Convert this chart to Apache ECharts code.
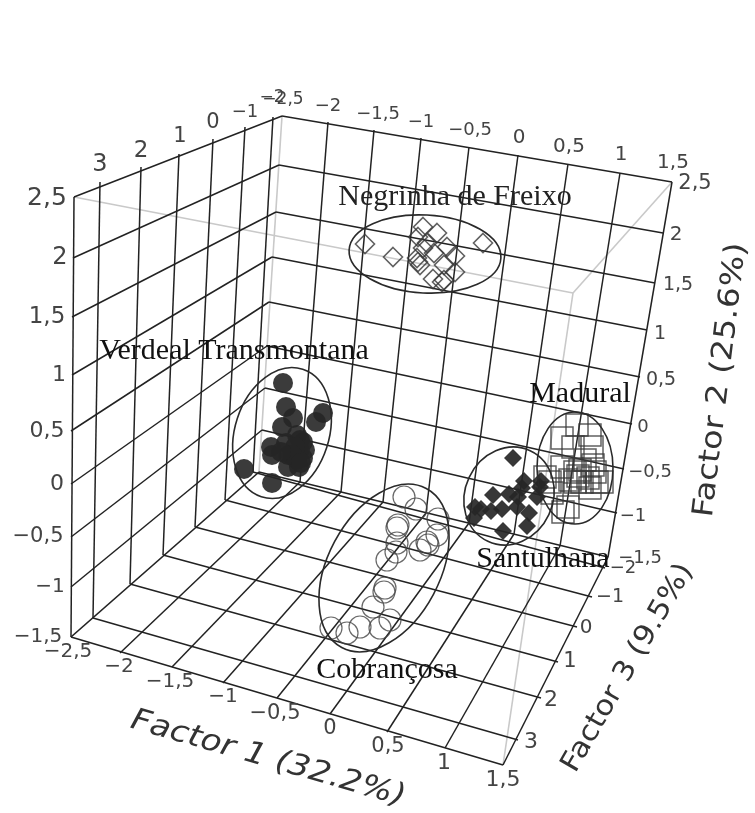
<!DOCTYPE html>
<html>
<head>
<meta charset="utf-8">
<title>Factor scores</title>
<script src="https://cdn.jsdelivr.net/npm/echarts@6/dist/echarts.min.js"></script>
<style>
  html, body { margin: 0; padding: 0; background: #fff; }
  #chart { width: 755px; height: 813px; }
</style>
</head>
<body>
<div id="chart"></div>
<script>
// scores as read off the projected picture plane (no 3d in plain echarts)
const negrinha = [[365,244],[393,257],[423,227],[437,233],[418,237],[427,243],[423,248],[447,247],[434,253],[455,256],[417,258],[420,265],[418,262],[444,265],[455,272],[433,279],[444,280],[442,282],[483,243]];
const verdeal = [[283,383],[286,407],[293,418],[323,413],[316,422],[282,427],[297,435],[303,442],[286,443],[271,447],[272,455],[288,455],[300,450],[297,460],[303,458],[288,467],[299,467],[244,469],[272,483],[300,440],[305,450],[295,447],[292,455],[301,463],[281,452]];
const cobrancosa = [[404,497],[416,509],[398,525],[397,528],[438,519],[437,535],[427,542],[428,545],[420,550],[397,543],[396,552],[387,560],[385,588],[384,592],[373,607],[331,628],[347,633],[360,627],[380,628],[390,620]];
const santulhana = [[513,458],[524,481],[522,488],[541,481],[540,487],[537,497],[493,495],[509,494],[518,497],[517,507],[529,513],[502,509],[491,511],[481,509],[475,507],[474,518],[527,526],[503,531]];
const madural = [[577,425],[562,438],[590,435],[573,447],[592,447],[562,467],[580,470],[595,472],[575,472],[545,477],[550,482],[588,478],[582,482],[597,482],[570,480],[602,482],[575,482],[552,493],[568,507],[563,512],[590,488],[585,460],[578,476],[593,465]];

// cx, cy, rx, ry, tilt in degrees
const ellipses = [
  [425, 254, 76, 39, -3],
  [282, 433, 47, 67, -18],
  [384, 568, 56, 90, -28],
  [509, 496, 44, 50, -25],
  [575, 468, 38, 56, 0]
];

const f1Ticks = ['−2,5', '−2', '−1,5', '−1', '−0,5', '0', '0,5', '1', '1,5'];
const f2Ticks = ['2,5', '2', '1,5', '1', '0,5', '0', '−0,5', '−1', '−1,5'];
const f3Ticks = ['3', '2', '1', '0', '−1', '−2'];

// cube frame: where each tick meets its edge
const f2Front = [[74,197],[73,258],[72,317],[72,375],[71,431],[71,484],[71,537],[71,587],[71,637]];
const f2Corner = [[282,116],[279,165],[276,212],[272,257],[269,302],[267,346],[265,388],[262,430],[259,472]];
const f2Right = [[672,182],[663,233],[655,283],[647,330],[640,377],[632,424],[624,469],[617,513],[608,557]];
const f1Top = [[282,116],[328,122],[374,130],[421,138],[469,147],[518,155],[568,164],[620,173],[672,182]];
const f1Back = [[259,472],[300,482],[341,492],[383,502],[426,513],[469,523],[514,534],[560,546],[608,557]];
const f1Front = [[71,637],[120,653],[172,667],[223,683],[277,698],[330,714],[387,732],[445,748],[503,765]];
const f3Top = [[100,182],[141,167],[179,154],[213,139],[245,127],[273,117]];
const f3Left = [[93,618],[130,584],[163,555],[195,527],[225,500],[253,472]];
const f3Right = [[518,740],[541,698],[558,662],[577,627],[592,597],[605,568]];
const hiddenEdges = [
  [[74,197],[573,293]], [[573,293],[672,182]], [[573,293],[503,765]],
  [[282,116],[259,472]], [[71,637],[259,472]]
];

function zip(a, b) {
  return a.map((p, i) => ({ coords: [p, b[i]] }));
}
const frameLines = [].concat(
  zip(f2Front, f2Corner),
  zip(f2Corner, f2Right),
  zip(f1Top.slice(1, 8), f1Back.slice(1, 8)),
  zip(f1Front.slice(1, 8), f1Back.slice(1, 8)),
  zip(f3Top, f3Left),
  zip(f3Left, f3Right),
  [{ coords: [f2Front[0], f2Front[8]] }, { coords: [f2Right[0], f2Right[8]] },
   { coords: [f1Front[0], f1Front[8]] }, { coords: [f2Right[8], f1Front[8]] }]
);

const TICK = '"DejaVu Sans"';
const SERIF = '"Liberation Serif"';
const texts = [];
function tickRow(labels, at, sizes) {
  labels.forEach((t, i) => texts.push({ value: at[i], t: t, size: sizes[i], font: TICK, fill: '#444' }));
}
tickRow(f2Ticks, [[47,198],[60,258],[47,317],[59,375],[47,431],[57,484],[38,537],[50,587],[38,637]], [25,24,23,22,22,22,21,20,20]);
tickRow(f3Ticks, [[100,165],[141,151],[180,137],[213,123],[245,112],[272,98]], [24,23,21,21,18,17]);
tickRow(f1Ticks, [[283,100],[328,106],[378,114],[421,122],[470,130],[519,138],[569,147],[621,155],[673,163]], [17,18,18,18,18,20,20,20,20]);
tickRow(f2Ticks, [[695,184],[676,235],[678,285],[660,334],[661,380],[643,427],[650,472],[633,516],[640,558]], [21,20,19,19,19,18,18,18,18]);
tickRow(f3Ticks, [[531,742],[551,700],[570,662],[586,628],[610,597],[623,568]], [22,22,21,20,19,18]);
tickRow(f1Ticks, [[68,652],[119,667],[170,682],[223,697],[275,714],[330,729],[388,747],[444,763],[503,780]], [20,20,20,20,21,21,21,22,22]);

const axisTitles = [
  { value: [268,759], t: 'Factor 1 (32.2%)', size: 30, rot: -16, scale: 1.13, font: TICK, fill: '#333', italic: true },
  { value: [721,380], t: 'Factor 2 (25.6%)', size: 29, rot: 83, scale: 1.15, font: TICK, fill: '#333' },
  { value: [628,668], t: 'Factor 3 (9.5%)', size: 28, rot: 60, scale: 1.1, font: TICK, fill: '#333' }
];
const groupNames = [
  { value: [455,197], t: 'Negrinha de Freixo', size: 30, font: SERIF, fill: '#222' },
  { value: [234,351], t: 'Verdeal Transmontana', size: 30, font: SERIF, fill: '#111' },
  { value: [580,394], t: 'Madural', size: 30, font: SERIF, fill: '#111' },
  { value: [543,559], t: 'Santulhana', size: 30, font: SERIF, fill: '#111' },
  { value: [387,670], t: 'Cobrançosa', size: 30, font: SERIF, fill: '#111' }
];
const allTexts = texts.concat(axisTitles, groupNames);

const chart = echarts.init(document.getElementById('chart'));
chart.setOption({
  animation: false,
  backgroundColor: '#fff',
  grid: { left: 0, right: 0, top: 0, bottom: 0 },
  xAxis: { type: 'value', min: 0, max: 755, show: false },
  yAxis: { type: 'value', min: 0, max: 813, inverse: true, show: false },
  series: [
    {
      type: 'lines', coordinateSystem: 'cartesian2d', silent: true, z: 1,
      data: hiddenEdges.map((c) => ({ coords: c })),
      lineStyle: { color: '#c9c9c9', width: 1.6, opacity: 1 }
    },
    {
      type: 'lines', coordinateSystem: 'cartesian2d', silent: true, z: 2,
      data: frameLines,
      lineStyle: { color: '#222', width: 1.5, opacity: 1 }
    },
    {
      name: 'Negrinha de Freixo', type: 'scatter', z: 3, data: negrinha, symbol: 'diamond', symbolSize: 19,
      itemStyle: { color: 'transparent', borderColor: '#3a3a3a', borderWidth: 1.6 }
    },
    {
      name: 'Verdeal Transmontana', type: 'scatter', z: 3, data: verdeal, symbol: 'circle', symbolSize: 20,
      itemStyle: { color: '#262626', opacity: 0.9 }
    },
    {
      name: 'Cobrançosa', type: 'scatter', z: 3, data: cobrancosa, symbol: 'circle', symbolSize: 22,
      itemStyle: { color: 'transparent', borderColor: '#444', borderWidth: 1.2 }
    },
    {
      name: 'Madural', type: 'scatter', z: 3, data: madural, symbol: 'rect', symbolSize: 22,
      itemStyle: { color: 'transparent', borderColor: '#3a3a3a', borderWidth: 1.5 }
    },
    {
      name: 'Santulhana', type: 'scatter', z: 4, data: santulhana, symbol: 'diamond', symbolSize: 18,
      itemStyle: { color: '#262626', opacity: 0.92 }
    },
    {
      type: 'custom', coordinateSystem: 'cartesian2d', silent: true, z: 5, data: ellipses,
      renderItem: function (params, api) {
        const c = api.coord([api.value(0), api.value(1)]);
        const s = api.size([api.value(2), api.value(3)]);
        return {
          type: 'ellipse',
          x: c[0], y: c[1],
          rotation: api.value(4) * Math.PI / 180,
          shape: { cx: 0, cy: 0, rx: s[0], ry: s[1] },
          style: { fill: 'transparent', stroke: '#2a2a2a', lineWidth: 1.6 }
        };
      }
    },
    {
      type: 'custom', coordinateSystem: 'cartesian2d', silent: true, z: 6,
      data: allTexts.map((d) => ({ value: d.value })),
      renderItem: function (params, api) {
        const d = allTexts[params.dataIndex];
        const c = api.coord(d.value);
        return {
          type: 'text',
          x: c[0], y: c[1],
          rotation: (d.rot || 0) * Math.PI / 180,
          scaleX: d.scale || 1,
          style: {
            text: d.t, fontSize: d.size, fontFamily: d.font, fill: d.fill,
            fontStyle: d.italic ? 'italic' : 'normal',
            align: 'center', verticalAlign: 'middle'
          }
        };
      }
    }
  ]
});
</script>
</body>
</html>
